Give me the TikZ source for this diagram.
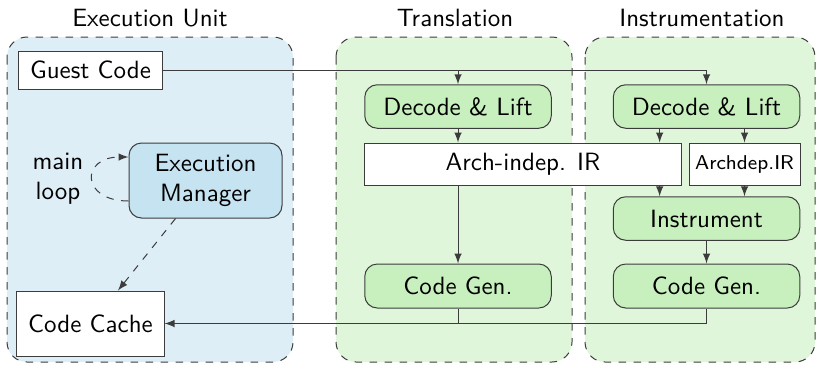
\documentclass[tikz,border=0pt]{standalone}
\usetikzlibrary{calc}
\definecolor{unitblue}{RGB}{222,238,247}
\definecolor{mgrblue}{RGB}{198,227,241}
\definecolor{stagegreen}{RGB}{224,246,218}
\definecolor{passgreen}{RGB}{200,240,190}
\definecolor{edgegray}{RGB}{60,60,60}
\begin{document}
\begin{tikzpicture}[>=latex,x=0.4pt,y=-0.4pt,font=\sffamily,
  panel/.style={draw=edgegray,dashed,rounded corners=8pt},
  blk/.style={draw=edgegray,fill=white,inner sep=0pt},
  pass/.style={blk,rounded corners=5pt,fill=passgreen,minimum width=74.6pt,minimum height=17.4pt}]
\useasboundingbox (0,0) rectangle (817,367);
\draw[panel,fill=unitblue] (7,37) rectangle (293,362);
\draw[panel,fill=stagegreen] (336,37) rectangle (572,362);
\draw[panel,fill=stagegreen] (585,37) rectangle (815,362);
\node (tunit) at (150,18) {Execution Unit};
\node (ttrans) at (455,18) {Translation};
\node (tinstr) at (702,18) {Instrumentation};

\node[blk,minimum width=57.2pt,minimum height=15.2pt] (guest) at (90.5,70) {Guest Code};
\node[blk,rounded corners=5pt,fill=mgrblue,align=center,minimum width=61.2pt,minimum height=30pt] (mgr) at (205.5,180.5) {Execution\\Manager};
\node[align=center] (loop) at (58,179) {main\\loop};
\node[blk,minimum width=58.8pt,minimum height=26pt] (cache) at (90.5,323.5) {Code Cache};

\node[pass] (dlT) at (458,106.5) {Decode \& Lift};
\node[blk,minimum width=126.8pt,minimum height=16.8pt] (indep) at (523,164) {Arch-indep. IR};
\node[pass,minimum height=17.6pt] (cgT) at (458,286) {Code Gen.};

\node[pass] (dlI) at (706.5,106.5) {Decode \& Lift};
\node[blk,font=\sffamily\footnotesize,minimum width=44.4pt,minimum height=16.8pt] (archdep) at (744.5,164) {Archdep.IR};
\node[pass] (instr) at (706.5,218.5) {Instrument};
\node[pass,minimum height=17.6pt] (cgI) at (706.5,286) {Code Gen.};
\coordinate (split) at ($(dlI.south west)!0.25!(dlI.south east)$);

\draw[edgegray,->,dashed] ($(mgr.west)+(0,20.5)$) .. controls +(-48,0) and +(-48,0) .. ($(mgr.west)+(0,-23.5)$);
\draw[edgegray,->,dashed] ([xshift=-12pt]mgr.south) -- ([xshift=11pt]cache.north);
\draw[edgegray,->] (guest.east) -| (dlI.north);
\draw[edgegray,->] (guest.east -| dlT.north) -- (dlT.north);
\draw[edgegray,->] (dlT.south) -- (dlT.south |- indep.north);
\draw[edgegray,->] (indep.south -| dlT) -- (cgT.north);
\draw[edgegray,->] (dlI.south -| split) -- (indep.north -| split);
\draw[edgegray,->] (dlI.south -| archdep) -- (archdep.north);
\draw[edgegray,->] (indep.south -| split) -- (instr.north -| split);
\draw[edgegray,->] (archdep.south) -- (instr.north -| archdep);
\draw[edgegray,->] (instr) -- (cgI);
\draw[edgegray,->] (cgI.south) |- (cache.east);
\draw[edgegray] (cgT.south) -- (cgT.south |- cache.east);
\end{tikzpicture}
\end{document}
